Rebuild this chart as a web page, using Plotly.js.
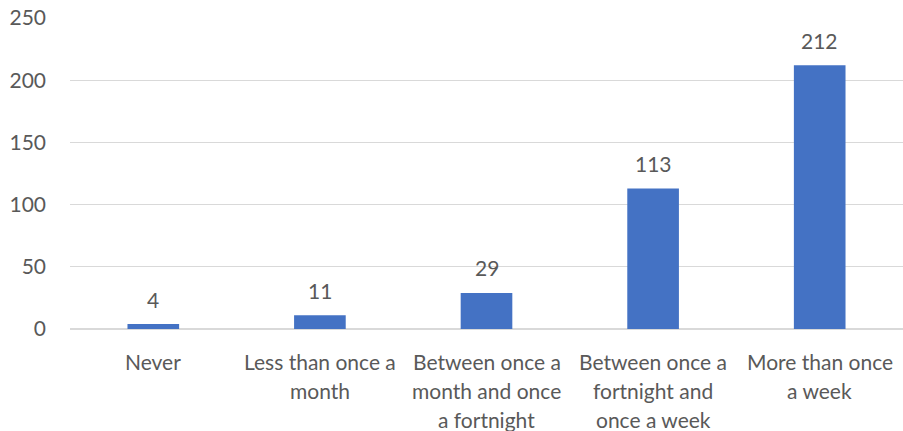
<!DOCTYPE html>
<html>
<head>
<meta charset="utf-8">
<script src="https://cdn.plot.ly/plotly-3.0.1.min.js"></script>
<style>html,body{margin:0;padding:0;background:#fff;}</style>
</head>
<body>
<div id="chart" style="width:903px;height:431px;"></div>
<script>
const categories = [
  "Never",
  "Less than once a<br>month",
  "Between once a<br>month and once<br>a fortnight",
  "Between once a<br>fortnight and<br>once a week",
  "More than once<br>a week"
];
const values = [4, 11, 29, 113, 212];
const yTickVals = [0, 50, 100, 150, 200, 250];

const FONT = "Lato, 'Open Sans', sans-serif";
const TEXT_COLOR = "#595959";
const FS = 21;

const annotations = [];
categories.forEach((cat, i) => {
  cat.split("<br>").forEach((line, j) => {
    annotations.push({
      x: cat, y: 0, xref: "x", yref: "y",
      text: line, showarrow: false,
      yanchor: "middle", xanchor: "center",
      yshift: -(32 + j * 29),
      font: {family: FONT, size: FS, color: TEXT_COLOR}
    });
  });
  annotations.push({
    x: cat, y: values[i], xref: "x", yref: "y",
    text: String(values[i]), showarrow: false,
    yanchor: "middle", xanchor: "center",
    yshift: 25,
    font: {family: FONT, size: FS, color: TEXT_COLOR}
  });
});

const trace = {
  type: "bar",
  x: categories,
  y: values,
  marker: {color: "#4472C4"},
  hoverinfo: "none"
};

const layout = {
  width: 903, height: 431,
  margin: {l: 70, r: 0, t: 18, b: 102},
  paper_bgcolor: "#ffffff",
  plot_bgcolor: "#ffffff",
  bargap: 0.69,
  showlegend: false,
  font: {family: FONT, size: FS, color: TEXT_COLOR},
  xaxis: {
    type: "category",
    showticklabels: false,
    showgrid: false,
    zeroline: false,
    showline: false,
    ticks: ""
  },
  yaxis: {
    range: [0, 250],
    tickvals: yTickVals,
    ticktext: yTickVals.map(String),
    showgrid: true,
    gridcolor: "#d9d9d9",
    gridwidth: 1.3,
    zeroline: true,
    zerolinecolor: "#d9d9d9",
    zerolinewidth: 1.3,
    showline: false,
    ticks: "",
    ticklabelstandoff: 23,
    tickfont: {family: FONT, size: FS, color: TEXT_COLOR}
  },
  annotations: annotations
};

Plotly.newPlot("chart", [trace], layout, {displayModeBar: false, staticPlot: true});
</script>
</body>
</html>
